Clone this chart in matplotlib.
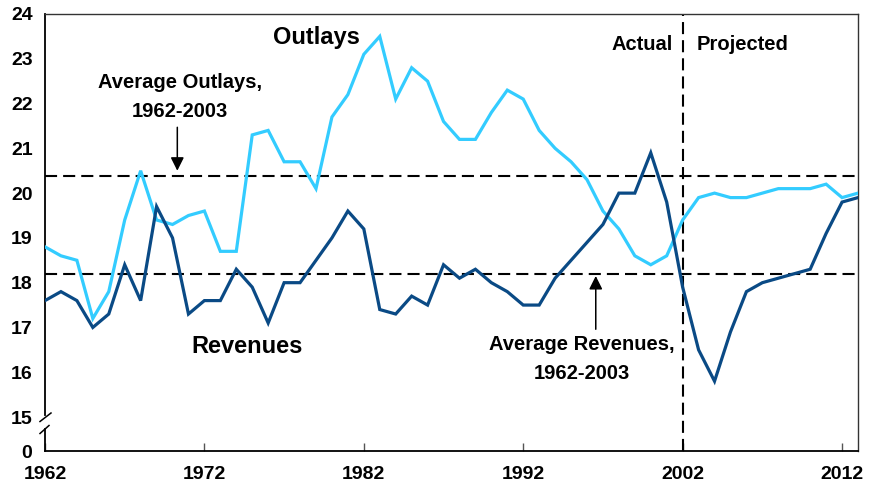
import matplotlib
matplotlib.use("Agg")
import matplotlib.pyplot as plt
from matplotlib.lines import Line2D

years = list(range(1962, 2014))
outlays = [18.8, 18.6, 18.5, 17.2, 17.8, 19.4, 20.5, 19.4, 19.3, 19.5,
           19.6, 18.7, 18.7, 21.3, 21.4, 20.7, 20.7, 20.1, 21.7, 22.2,
           23.1, 23.5, 22.1, 22.8, 22.5, 21.6, 21.2, 21.2, 21.8, 22.3,
           22.1, 21.4, 21.0, 20.7, 20.3, 19.6, 19.2, 18.6, 18.4, 18.6,
           19.4, 19.9, 20.0, 19.9, 19.9, 20.0, 20.1, 20.1, 20.1, 20.2,
           19.9, 20.0]
revenues = [17.6, 17.8, 17.6, 17.0, 17.3, 18.4, 17.6, 19.7, 19.0, 17.3,
            17.6, 17.6, 18.3, 17.9, 17.1, 18.0, 18.0, 18.5, 19.0, 19.6,
            19.2, 17.4, 17.3, 17.7, 17.5, 18.4, 18.1, 18.3, 18.0, 17.8,
            17.5, 17.5, 18.1, 18.5, 18.9, 19.3, 20.0, 20.0, 20.9, 19.8,
            17.9, 16.5, 15.8, 16.9, 17.8, 18.0, 18.1, 18.2, 18.3, 19.1,
            19.8, 19.9]
avg_outlays = 20.38
avg_revenues = 18.2
split_year = 2002
x_ticks = [1962, 1972, 1982, 1992, 2002, 2012]
y_ticks = [15, 16, 17, 18, 19, 20, 21, 22, 23, 24]

LIGHT = "#33CCFF"
DARK = "#0A4A85"
FONT = "Liberation Sans"

plt.rcParams["font.family"] = [FONT, "DejaVu Sans"]
plt.rcParams["font.weight"] = "bold"

fig = plt.figure(figsize=(8.69, 4.87), dpi=100)
ax = fig.add_axes([45/869, 36/487, 813/869, 437/487])

ybot = 24 - 437/44.78  # position of "0" after the axis break
ax.set_xlim(1962, 2013)
ax.set_ylim(ybot, 24)

dash = (5.8, 2.9)
ax.axhline(avg_outlays, color="black", lw=1.5, dashes=dash, zorder=2)
ax.axhline(avg_revenues, color="black", lw=1.5, dashes=dash, zorder=2)
ax.axvline(split_year, color="black", lw=1.5, dashes=dash, zorder=2)

ax.plot(years, outlays, color=LIGHT, lw=2.3, zorder=3, solid_joinstyle="miter")
ax.plot(years, revenues, color=DARK, lw=2.3, zorder=3, solid_joinstyle="miter")

# spines
ax.spines["left"].set_visible(False)
for s in ("top", "right"):
    ax.spines[s].set_color("#333333")
    ax.spines[s].set_linewidth(1.0)
ax.spines["bottom"].set_color("black")
ax.spines["bottom"].set_linewidth(1.3)

# broken left axis
tr = ax.get_yaxis_transform()
def vpx(px):
    return 24 - (px - 14) / 44.78
ax.add_line(Line2D([0, 0], [24, vpx(415)], transform=tr, color="black", lw=1.3, clip_on=False))
ax.add_line(Line2D([0, 0], [vpx(429), ybot], transform=tr, color="black", lw=1.3, clip_on=False))
ax.add_line(Line2D([-5/813, 6/813], [vpx(421.5), vpx(413)], transform=tr, color="black", lw=1.1, clip_on=False))
ax.add_line(Line2D([-5/813, 4/813], [vpx(433.5), vpx(425.5)], transform=tr, color="black", lw=1.1, clip_on=False))

# ticks
ax.set_xticks(x_ticks)
ax.set_xticklabels([str(t) for t in x_ticks])
ax.tick_params(axis="x", direction="in", length=5.8, width=1, color="#555555",
               pad=11, labelsize=14)
ax.set_yticks([ybot] + y_ticks)
ax.set_yticklabels(["0"] + [str(t) for t in y_ticks])
ax.tick_params(axis="y", which="major", length=0, pad=9, labelsize=14)
ax.set_yticks([16, 17, 18, 19, 20, 21, 22, 23], minor=True)
ax.tick_params(axis="y", which="minor", direction="in", length=5.8, width=1,
               color="#555555")
for lab in ax.get_xticklabels() + ax.get_yticklabels():
    lab.set_fontweight("bold")

# annotations
ax.text(1979.0, 23.47, "Outlays", fontsize=17, fontweight="bold", ha="center", va="center")
ax.text(1974.7, 16.58, "Revenues", fontsize=17, fontweight="bold", ha="center", va="center")
ax.text(1970.45, 22.15, "Average Outlays,\n1962-2003", fontsize=14.5, fontweight="bold",
        ha="center", va="center", linespacing=1.65)
ax.annotate("", xy=(1970.3, 20.5), xytext=(1970.3, 21.47),
            arrowprops=dict(arrowstyle="-|>", color="black", lw=1.1,
                            mutation_scale=20, shrinkA=0, shrinkB=0))
ax.text(1995.65, 16.3, "Average Revenues,\n1962-2003", fontsize=14.5, fontweight="bold",
        ha="center", va="center", linespacing=1.65)
ax.annotate("", xy=(1996.55, 18.15), xytext=(1996.55, 16.96),
            arrowprops=dict(arrowstyle="-|>", color="black", lw=1.1,
                            mutation_scale=20, shrinkA=0, shrinkB=0))
ax.text(2001.4, 23.31, "Actual", fontsize=14.5, fontweight="bold", ha="right", va="center")
ax.text(2002.9, 23.31, "Projected", fontsize=14.5, fontweight="bold", ha="left", va="center")

fig.savefig("out.png", dpi=100)
